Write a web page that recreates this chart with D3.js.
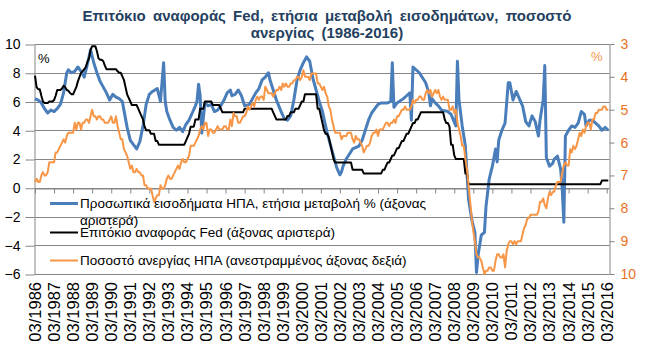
<!DOCTYPE html>
<html>
<head>
<meta charset="utf-8">
<script src="https://cdn.jsdelivr.net/npm/d3@7"></script>
<style>
  body { margin: 0; background: #fff; }
  svg { display: block; font-family: "Liberation Sans", Arial, sans-serif; }
</style>
</head>
<body>
<div id="chart"></div>
<script>
// monthly data, first month 03/1986
var titleLines = ["Επιτόκιο αναφοράς Fed, ετήσια μεταβολή εισοδημάτων, ποσοστό", "ανεργίας (1986-2016)"];
var legendLabels = [
    ["Προσωπικά εισοδήματα ΗΠΑ,  ετήσια μεταβολή % (άξονας", "αριστερά)"],
    ["Επιτόκιο αναφοράς Fed (άξονας αριστερά)"],
    ["Ποσοστό ανεργίας ΗΠΑ (ανεστραμμένος άξονας δεξιά)"]
];
var xTickLabels = ["03/1986", "03/1987", "03/1988", "03/1989", "03/1990", "03/1991", "03/1992", "03/1993",
    "03/1994", "03/1995", "03/1996", "03/1997", "03/1998", "03/1999", "03/2000", "03/2001", "03/2002",
    "03/2003", "03/2004", "03/2005", "03/2006", "03/2007", "03/2008", "03/2009", "03/2010", "03/2011",
    "03/2012", "03/2013", "03/2014", "03/2015", "03/2016"];
var leftTicks = [-6, -4, -2, 0, 2, 4, 6, 8, 10];
var rightTicks = [3, 4, 5, 6, 7, 8, 9, 10];

// Fed rate, monthly 03/1986 - 04/2016
var fedRate = [
    7.8, 7.0, 6.85, 6.85, 6.4, 6.0, 5.9, 5.9, 5.9, 6.0,
    6.0, 6.0, 6.1, 6.4, 6.8, 6.8, 6.8, 6.9, 7.1, 7.0, 6.8, 6.75,
    6.6, 6.5, 6.5, 6.75, 7.0, 7.4, 7.7, 8.0, 8.1, 8.25, 8.4, 8.75,
    9.0, 9.6, 9.85, 9.85, 9.85, 9.5, 9.0, 8.9, 8.9, 8.8, 8.5, 8.25,
    8.25, 8.25, 8.25, 8.25, 8.25, 8.25, 8.1, 8.0, 8.0, 7.75, 7.5, 7.0,
    6.5, 6.25, 6.0, 5.75, 5.75, 5.75, 5.75, 5.5, 5.25, 5.0, 4.75, 4.25,
    4.0, 4.0, 4.0, 3.75, 3.75, 3.75, 3.25, 3.25, 3.0, 3.0, 3.0, 3.0,
    3.0, 3.0, 3.0, 3.0, 3.0, 3.0, 3.0, 3.0, 3.0, 3.0, 3.0, 3.0,
    3.0, 3.25, 3.5, 3.75, 4.25, 4.25, 4.25, 4.75, 4.75, 4.75, 5.5, 5.5,
    5.5, 6.0, 6.0, 6.0, 6.0, 6.0, 5.75, 5.75, 5.75, 5.75, 5.75, 5.5,
    5.25, 5.25, 5.25, 5.25, 5.25, 5.25, 5.25, 5.25, 5.25, 5.25, 5.25, 5.25,
    5.25, 5.25, 5.5, 5.5, 5.5, 5.5, 5.5, 5.5, 5.5, 5.5, 5.5, 5.5,
    5.5, 5.5, 5.5, 5.5, 5.5, 5.5, 5.5, 5.5, 5.25, 5.0, 4.75, 4.75,
    4.75, 4.75, 4.75, 4.75, 4.75, 5.0, 5.0, 5.25, 5.25, 5.25, 5.5, 5.5,
    5.5, 5.75, 6.0, 6.0, 6.5, 6.5, 6.5, 6.5, 6.5, 6.5, 6.5, 6.5,
    5.5, 5.5, 5.0, 4.5, 4.0, 3.75, 3.75, 3.5, 3.0, 2.5, 2.0, 1.75,
    1.75, 1.75, 1.75, 1.75, 1.75, 1.75, 1.75, 1.75, 1.75, 1.75, 1.25, 1.25,
    1.25, 1.25, 1.25, 1.25, 1.25, 1.0, 1.0, 1.0, 1.0, 1.0, 1.0, 1.0,
    1.0, 1.0, 1.0, 1.0, 1.0, 1.25, 1.25, 1.5, 1.75, 1.75, 2.0, 2.25,
    2.25, 2.5, 2.75, 2.75, 3.0, 3.25, 3.25, 3.5, 3.75, 3.75, 4.0, 4.25,
    4.5, 4.5, 4.75, 4.75, 5.0, 5.25, 5.25, 5.25, 5.25, 5.25, 5.25, 5.25,
    5.25, 5.25, 5.25, 5.25, 5.25, 5.25, 5.25, 5.25, 4.75, 4.5, 4.5, 4.25,
    3.0, 3.0, 2.25, 2.0, 2.0, 2.0, 2.0, 2.0, 2.0, 1.0, 1.0, 0.25,
    0.25, 0.25, 0.25, 0.25, 0.25, 0.25, 0.25, 0.25, 0.25, 0.25, 0.25, 0.25,
    0.25, 0.25, 0.25, 0.25, 0.25, 0.25, 0.25, 0.25, 0.25, 0.25, 0.25, 0.25,
    0.25, 0.25, 0.25, 0.25, 0.25, 0.25, 0.25, 0.25, 0.25, 0.25, 0.25, 0.25,
    0.25, 0.25, 0.25, 0.25, 0.25, 0.25, 0.25, 0.25, 0.25, 0.25, 0.25, 0.25,
    0.25, 0.25, 0.25, 0.25, 0.25, 0.25, 0.25, 0.25, 0.25, 0.25, 0.25, 0.25,
    0.25, 0.25, 0.25, 0.25, 0.25, 0.25, 0.25, 0.25, 0.25, 0.25, 0.25, 0.25,
    0.25, 0.25, 0.25, 0.25, 0.25, 0.25, 0.25, 0.25, 0.25, 0.25, 0.25, 0.5,
    0.5, 0.5, 0.5, 0.5
];

// unemployment rate, monthly 03/1986 - 04/2016
var unemployment = [
    7.2, 7.1, 7.2, 7.2, 7.0, 6.9, 7.0, 7.0, 6.9, 6.6,
    6.6, 6.6, 6.6, 6.3, 6.3, 6.2, 6.1, 6.0, 5.9, 6.0, 5.8, 5.7,
    5.7, 5.7, 5.7, 5.4, 5.6, 5.4, 5.4, 5.6, 5.4, 5.4, 5.3, 5.3,
    5.4, 5.2, 5.0, 5.2, 5.2, 5.3, 5.2, 5.2, 5.3, 5.3, 5.4, 5.4,
    5.4, 5.3, 5.2, 5.4, 5.4, 5.2, 5.5, 5.7, 5.9, 5.9, 6.2, 6.3,
    6.4, 6.6, 6.8, 6.7, 6.9, 6.9, 6.8, 6.9, 6.9, 7.0, 7.0, 7.3,
    7.3, 7.4, 7.4, 7.4, 7.6, 7.8, 7.7, 7.6, 7.6, 7.3, 7.4, 7.4,
    7.3, 7.1, 7.0, 7.1, 7.1, 7.0, 6.9, 6.8, 6.7, 6.8, 6.6, 6.5,
    6.6, 6.6, 6.5, 6.4, 6.1, 6.1, 6.1, 6.0, 5.9, 5.8, 5.6, 5.5,
    5.6, 5.4, 5.4, 5.8, 5.6, 5.6, 5.7, 5.7, 5.6, 5.5, 5.6, 5.6,
    5.6, 5.5, 5.5, 5.6, 5.6, 5.3, 5.5, 5.1, 5.2, 5.2, 5.4, 5.4,
    5.3, 5.2, 5.2, 5.1, 4.9, 5.0, 4.9, 4.8, 4.9, 4.7, 4.6, 4.7,
    4.6, 4.6, 4.7, 4.3, 4.4, 4.5, 4.5, 4.5, 4.6, 4.5, 4.4, 4.4,
    4.3, 4.4, 4.2, 4.3, 4.2, 4.3, 4.3, 4.2, 4.2, 4.1, 4.1, 4.0,
    4.0, 4.1, 4.0, 3.8, 4.0, 4.0, 4.0, 4.1, 3.9, 3.9, 3.9, 3.9,
    4.2, 4.2, 4.3, 4.4, 4.3, 4.5, 4.6, 4.9, 5.0, 5.3, 5.5, 5.7,
    5.7, 5.7, 5.7, 5.9, 5.8, 5.8, 5.8, 5.7, 5.7, 5.7, 5.9, 6.0,
    5.8, 5.9, 5.9, 6.0, 6.1, 6.3, 6.2, 6.1, 6.1, 6.0, 5.8, 5.7,
    5.7, 5.6, 5.8, 5.6, 5.6, 5.6, 5.5, 5.4, 5.4, 5.5, 5.4, 5.4,
    5.3, 5.4, 5.2, 5.2, 5.1, 5.0, 5.0, 4.9, 5.0, 5.0, 5.0, 4.9,
    4.7, 4.8, 4.7, 4.7, 4.6, 4.6, 4.7, 4.7, 4.5, 4.4, 4.5, 4.4,
    4.6, 4.5, 4.4, 4.5, 4.4, 4.6, 4.7, 4.6, 4.7, 4.7, 4.7, 5.0,
    5.0, 4.9, 5.1, 5.0, 5.4, 5.6, 5.8, 6.1, 6.1, 6.5, 6.8, 7.3,
    7.8, 8.3, 8.7, 9.0, 9.4, 9.5, 9.5, 9.6, 9.8, 10.0, 9.9, 9.9,
    9.8, 9.8, 9.9, 9.9, 9.6, 9.4, 9.4, 9.5, 9.5, 9.4, 9.8, 9.3,
    9.1, 9.0, 9.0, 9.1, 9.0, 9.1, 9.0, 9.0, 9.0, 8.8, 8.6, 8.5,
    8.3, 8.3, 8.2, 8.2, 8.2, 8.2, 8.2, 8.1, 7.8, 7.8, 7.7, 7.9,
    8.0, 7.7, 7.5, 7.6, 7.5, 7.5, 7.3, 7.2, 7.2, 7.2, 6.9, 6.7,
    6.6, 6.7, 6.7, 6.2, 6.3, 6.1, 6.2, 6.1, 5.9, 5.7, 5.8, 5.6,
    5.7, 5.5, 5.4, 5.4, 5.6, 5.3, 5.3, 5.1, 5.1, 5.0, 5.0, 5.0,
    4.9, 4.9, 5.0, 5.0
];

// personal income, yoy %
var incomeMonths = [
    "1986-03", "1986-05", "1986-07", "1986-09", "1986-11", "1987-01", "1987-03", "1987-05", "1987-07", "1987-09",
    "1987-11", "1987-12", "1988-02", "1988-04", "1988-06", "1988-08", "1988-10", "1988-12", "1989-02", "1989-04",
    "1989-06", "1989-08", "1989-10", "1989-12", "1990-02", "1990-04", "1990-06", "1990-08", "1990-10", "1990-11",
    "1991-01", "1991-03", "1991-05", "1991-07", "1991-09", "1991-11", "1992-01", "1992-03", "1992-05", "1992-08",
    "1992-10", "1992-12", "1993-01", "1993-02", "1993-04", "1993-06", "1993-08", "1993-10", "1993-12", "1994-02",
    "1994-04", "1994-06", "1994-08", "1994-09", "1994-10", "1994-11", "1994-12", "1995-02", "1995-04", "1995-06",
    "1995-08", "1995-10", "1995-12", "1996-02", "1996-04", "1996-06", "1996-07", "1996-09", "1996-11", "1997-01",
    "1997-03", "1997-06", "1997-08", "1997-10", "1997-12", "1998-02", "1998-04", "1998-06", "1998-07", "1998-09",
    "1998-11", "1999-02", "1999-04", "1999-06", "1999-08", "1999-10", "1999-12", "2000-02", "2000-04", "2000-06",
    "2000-08", "2000-10", "2000-12", "2001-02", "2001-04", "2001-07", "2001-09", "2001-11", "2002-01", "2002-03",
    "2002-04", "2002-05", "2002-07", "2002-11", "2003-03", "2003-05", "2003-07", "2003-09", "2003-11", "2004-01",
    "2004-03", "2004-05", "2004-09", "2004-11", "2004-12", "2005-01", "2005-03", "2005-07", "2005-09", "2005-11",
    "2005-12", "2006-01", "2006-05", "2006-09", "2006-11", "2006-12", "2007-01", "2007-03", "2007-05", "2007-07",
    "2007-11", "2008-01", "2008-04", "2008-05", "2008-06", "2008-08", "2008-09", "2008-10", "2008-11", "2008-12",
    "2009-02", "2009-04", "2009-05", "2009-06", "2009-08", "2009-10", "2009-11", "2010-01", "2010-03", "2010-05",
    "2010-06", "2010-07", "2010-09", "2010-11", "2011-01", "2011-02", "2011-04", "2011-06", "2011-08", "2011-10",
    "2011-12", "2012-02", "2012-04", "2012-06", "2012-08", "2012-09", "2012-11", "2012-12", "2013-01", "2013-03",
    "2013-05", "2013-06", "2013-08", "2013-10", "2013-11", "2013-12", "2014-01", "2014-03", "2014-05", "2014-07",
    "2014-09", "2014-11", "2015-01", "2015-02", "2015-04", "2015-06", "2015-08", "2015-10", "2015-12", "2016-02",
    "2016-04"
];
var incomeValues = [
    6.2, 6.1, 5.9, 5.5, 5.2, 5.4, 5.3, 5.5, 5.8, 6.6,
    8.0, 8.2, 8.0, 8.1, 8.4, 8.1, 7.7, 8.6, 9.6, 8.7,
    8.0, 7.4, 7.0, 6.6, 6.1, 6.5, 6.3, 6.2, 6.0, 5.4,
    4.2, 3.3, 3.0, 2.7, 3.2, 4.3, 5.8, 6.5, 6.7, 6.9,
    6.0, 8.7, 6.0, 5.3, 4.7, 4.2, 4.0, 4.2, 3.9, 4.4,
    4.7, 5.2, 5.7, 6.0, 7.2, 6.4, 3.8, 5.9, 5.7, 5.8,
    5.3, 5.4, 5.7, 6.1, 6.6, 6.8, 6.4, 6.5, 6.8, 6.4,
    5.7, 5.8, 6.2, 6.6, 6.9, 7.5, 7.7, 8.0, 7.5, 6.8,
    6.1, 5.3, 4.8, 4.7, 5.0, 6.1, 7.5, 8.2, 8.7, 9.1,
    8.8, 7.6, 6.8, 6.0, 5.3, 3.8, 3.0, 2.2, 1.4, 0.9,
    1.1, 1.5, 2.0, 2.7, 2.9, 3.3, 4.0, 4.7, 5.2, 5.5,
    5.8, 5.9, 5.9, 6.0, 8.7, 5.6, 5.9, 6.2, 6.4, 6.6,
    4.7, 8.4, 8.0, 7.3, 6.6, 5.7, 6.2, 5.9, 5.7, 5.4,
    5.3, 5.1, 4.3, 8.8, 6.1, 4.3, 3.6, 2.9, 1.0, -0.8,
    -2.2, -3.1, -5.9, -4.7, -3.3, -3.1, -1.3, 0.6, 1.5, 2.7,
    1.8, 3.3, 4.0, 4.5, 7.3, 7.3, 6.1, 6.7, 6.2, 5.7,
    4.6, 4.3, 5.0, 4.6, 3.6, 4.7, 6.1, 8.5, 2.1, 1.5,
    1.7, 2.0, 2.2, 1.3, -0.1, -2.4, 3.6, 4.0, 4.3, 4.2,
    4.5, 5.3, 5.1, 4.3, 4.7, 4.7, 4.5, 4.3, 4.0, 4.2,
    4.0
];

var width = 646, height = 352;
var plot = {left: 34.5, right: 609.5, top: 44, bottom: 274};

var svg = d3.select("#chart").append("svg")
    .attr("width", width)
    .attr("height", height);

function monthIndex(s) {
    var p = s.split("-");
    return (+p[0] - 1986) * 12 + (+p[1] - 3);
}

var x = d3.scaleLinear().domain([0, 361]).range([35, 608.3]);
var yL = d3.scaleLinear().domain([-6, 10]).range([plot.bottom, plot.top]);
var yR = d3.scaleLinear().domain([3, 10]).range([plot.top, plot.bottom]);

var gridColor = "#868686";
var crisp = function(v) { return Math.round(v) + 0.5; };

// title
svg.append("g").selectAll("text")
    .data(titleLines)
    .enter().append("text")
    .attr("x", 327)
    .attr("y", function(d, i) { return 21 + i * 17; })
    .attr("text-anchor", "middle")
    .style("font-size", "15px")
    .style("font-weight", "bold")
    .style("word-spacing", "3px")
    .style("fill", "#243F60")
    .text(function(d) { return d; });

// gridlines
svg.append("g").selectAll("line")
    .data(leftTicks)
    .enter().append("line")
    .attr("x1", plot.left)
    .attr("x2", plot.right)
    .attr("y1", function(d) { return crisp(yL(d)); })
    .attr("y2", function(d) { return crisp(yL(d)); })
    .style("stroke", gridColor)
    .style("stroke-width", 1);

// left axis
var leftAxis = svg.append("g")
    .attr("transform", "translate(" + plot.left + ",0.5)")
    .call(d3.axisLeft(yL).tickValues(leftTicks).tickSize(9).tickPadding(5).tickSizeOuter(0));
leftAxis.selectAll("line").style("stroke", gridColor);
leftAxis.select(".domain").style("stroke", gridColor);
leftAxis.selectAll("text")
    .style("font-size", "14px")
    .style("font-family", "Liberation Sans, Arial, sans-serif")
    .style("fill", "#000");

// right axis
var rightAxis = svg.append("g")
    .attr("transform", "translate(" + plot.right + ",0)")
    .call(d3.axisRight(yR).tickValues(rightTicks).tickFormat(d3.format("d"))
        .tickSize(5).tickPadding(6).tickSizeOuter(0));
rightAxis.selectAll("line").style("stroke", gridColor);
rightAxis.select(".domain").style("stroke", gridColor);
rightAxis.selectAll("text")
    .style("font-size", "14px")
    .style("font-family", "Liberation Sans, Arial, sans-serif")
    .style("fill", "#E8711E");

// category axis at zero
var xTickIdx = xTickLabels.map(function(d, i) { return i * 12; });
var xAxis = svg.append("g")
    .attr("transform", "translate(0," + crisp(yL(0)) + ")")
    .call(d3.axisBottom(x).tickValues(xTickIdx).tickFormat("").tickSize(5).tickSizeOuter(0));
xAxis.selectAll("line").style("stroke", gridColor);
xAxis.select(".domain").style("stroke", gridColor);

svg.append("g").selectAll("text")
    .data(xTickLabels)
    .enter().append("text")
    .attr("transform", function(d, i) {
        return "translate(" + x(xTickIdx[i]) + ",282) rotate(-90)";
    })
    .attr("dy", "0.36em")
    .attr("text-anchor", "end")
    .style("font-size", "16.5px")
    .style("fill", "#000")
    .text(function(d) { return d; });

// series
var lineIdx = d3.line()
    .x(function(d, i) { return x(i); })
    .y(function(d) { return yL(d); });

var incomeData = incomeMonths.map(function(d, i) {
    return [monthIndex(d), incomeValues[i]];
});

svg.append("path")
    .datum(incomeData)
    .attr("d", d3.line()
        .x(function(d) { return x(d[0]); })
        .y(function(d) { return yL(d[1]); }))
    .style("fill", "none")
    .style("stroke", "#4A7EBB")
    .style("stroke-width", 3)
    .style("stroke-linejoin", "round");

svg.append("path")
    .datum(fedRate)
    .attr("d", lineIdx)
    .style("fill", "none")
    .style("stroke", "#000")
    .style("stroke-width", 2)
    .style("stroke-linejoin", "round");

svg.append("path")
    .datum(unemployment)
    .attr("d", d3.line()
        .x(function(d, i) { return x(i); })
        .y(function(d) { return yR(d); }))
    .style("fill", "none")
    .style("stroke", "#F79646")
    .style("stroke-width", 2)
    .style("stroke-linejoin", "round");

// % marks
svg.append("text")
    .attr("x", 38).attr("y", 63)
    .style("font-size", "13px")
    .style("fill", "#000")
    .text("%");
svg.append("text")
    .attr("x", 591).attr("y", 61)
    .style("font-size", "13px")
    .style("fill", "#F79646")
    .text("%");

// legend
var legendColors = ["#4A7EBB", "#000", "#F79646"];
var legendWidths = [3, 2, 2];
var legendY = [203.5, 232.5, 260.5];

var legend = svg.append("g").selectAll("g")
    .data(legendLabels)
    .enter().append("g")
    .attr("transform", function(d, i) { return "translate(0," + legendY[i] + ")"; });

legend.append("line")
    .attr("x1", 50)
    .attr("x2", 78)
    .style("stroke", function(d, i) { return legendColors[i]; })
    .style("stroke-width", function(d, i) { return legendWidths[i]; });

legend.append("text")
    .attr("y", 4.5)
    .style("font-size", "13.5px")
    .style("fill", "#000")
    .selectAll("tspan")
    .data(function(d) { return d; })
    .enter().append("tspan")
    .attr("x", 80)
    .attr("dy", function(d, i) { return i === 0 ? 0 : 16.5; })
    .text(function(d) { return d; });
</script>
</body>
</html>
